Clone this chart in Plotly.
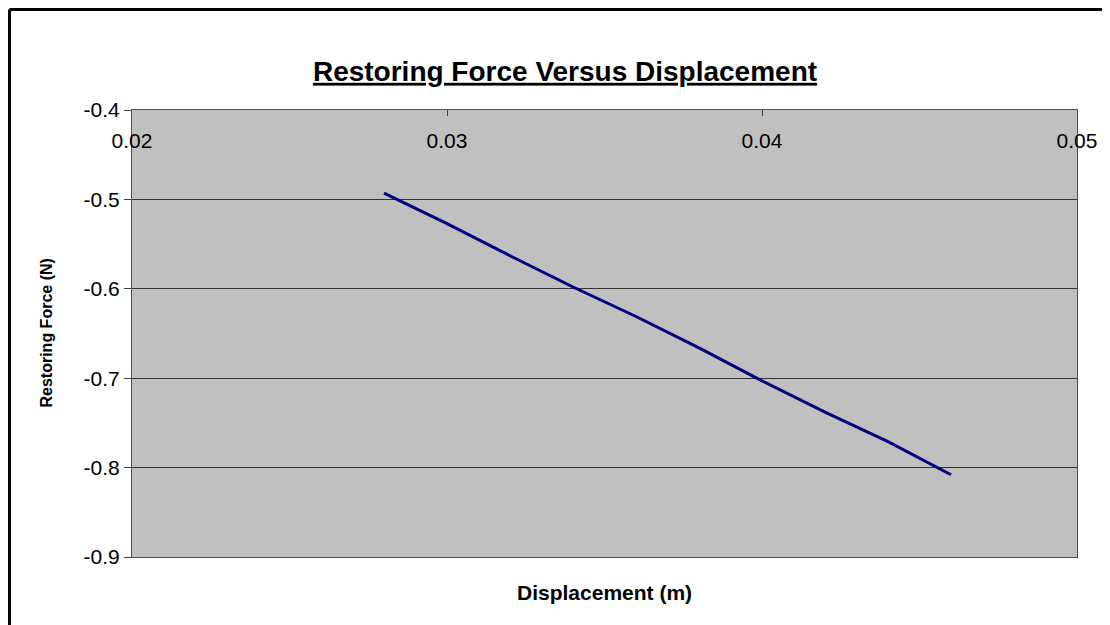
import plotly.graph_objects as go

# Data
displacement = [0.028, 0.030, 0.032, 0.034, 0.036, 0.038, 0.040, 0.042, 0.044, 0.046]
restoring_force = [-0.493, -0.527, -0.563, -0.598, -0.631, -0.666, -0.703, -0.738, -0.771, -0.808]

x_tickvals = [0.02, 0.03, 0.04, 0.05]
x_ticktext = ["0.02", "0.03", "0.04", "0.05"]
y_tickvals = [-0.4, -0.5, -0.6, -0.7, -0.8, -0.9]
y_ticktext = ["-0.4", "-0.5", "-0.6", "-0.7", "-0.8", "-0.9"]

title_text = "Restoring Force Versus Displacement"
x_title = "Displacement (m)"
y_title = "Restoring Force (N)"

FONT = "Arial, 'Liberation Sans', sans-serif"

# page has an 8px body margin; figure is sized to fit inside the window
OFF = 8
W, H = 1110 - OFF, 625 - OFF
L, T = 132 - OFF, 110 - OFF
PR, PB = 1077 - OFF, 557 - OFF
R, B = W - PR, H - PB
PW, PH = PR - L, PB - T

fig = go.Figure()
fig.add_trace(go.Scatter(
    x=displacement, y=restoring_force, mode="lines",
    line=dict(color="#000080", width=3), showlegend=False,
))

fig.update_layout(
    width=W, height=H,
    margin=dict(l=L, r=R, t=T, b=B, pad=0),
    paper_bgcolor="white",
    plot_bgcolor="#C0C0C0",
    font=dict(family=FONT, color="black"),
    title=dict(
        text="<b><u>" + title_text + "</u></b>",
        x=(565 - OFF) / W, xanchor="center", xref="container",
        y=1 - (71 - OFF) / H, yanchor="middle", yref="container",
        font=dict(size=28, family=FONT, color="black"),
    ),
)

fig.update_xaxes(
    range=[0.02, 0.05], side="top",
    tickvals=x_tickvals, ticktext=x_ticktext,
    ticks="inside", ticklen=6, tickcolor="#404040", tickwidth=1,
    ticklabelposition="inside", ticklabeloverflow="allow",
    ticklabelstandoff=19,
    tickfont=dict(size=21, family=FONT, color="black"),
    showgrid=False, zeroline=False,
    showline=True, linecolor="#505050", linewidth=1, mirror=True,
)
fig.update_yaxes(
    range=[-0.9, -0.4],
    tickvals=y_tickvals, ticktext=y_ticktext,
    ticks="outside", ticklen=7, tickcolor="#404040", tickwidth=1,
    tickfont=dict(size=21, family=FONT, color="black"),
    showgrid=True, gridcolor="#333333", gridwidth=1,
    zeroline=False,
    showline=True, linecolor="#505050", linewidth=1, mirror=True,
)

# axis titles
fig.add_annotation(
    text="<b>" + x_title + "</b>", xref="paper", yref="paper",
    x=0.5, y=-(592 - 557) / PH, xanchor="center", yanchor="middle",
    showarrow=False, font=dict(size=21, family=FONT, color="black"),
)
fig.add_annotation(
    text="<b>" + y_title + "</b>", xref="paper", yref="paper",
    x=(46 - 132) / PW, y=0.5, xanchor="center", yanchor="middle",
    textangle=-90, showarrow=False,
    font=dict(size=16, family=FONT, color="black"),
)

# outer chart frame (left and top edges visible), kept inside the figure
fx = (1.5 - L) / PW
fy = 1 + (T - 1.5) / PH
fig.add_shape(type="line", xref="paper", yref="paper",
              x0=fx, x1=fx, y0=fy, y1=-0.5, line=dict(color="black", width=3))
fig.add_shape(type="line", xref="paper", yref="paper",
              x0=fx, x1=1.5, y0=fy, y1=fy, line=dict(color="black", width=3))

fig.write_html("out.html")
